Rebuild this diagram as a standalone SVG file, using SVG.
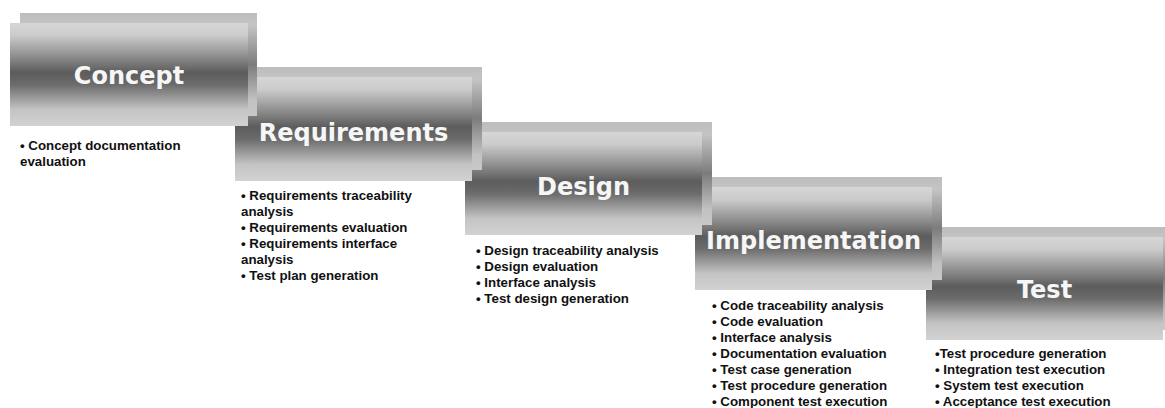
<svg xmlns="http://www.w3.org/2000/svg" width="1165" height="408" viewBox="0 0 1165 408">
<defs>
<linearGradient id="gFront" x1="0" y1="0" x2="0" y2="1">
<stop offset="0" stop-color="#d6d6d6"/>
<stop offset="0.12" stop-color="#cbcbcb"/>
<stop offset="0.33" stop-color="#8c8c8c"/>
<stop offset="0.48" stop-color="#5c5c5c"/>
<stop offset="0.6" stop-color="#6c6c6c"/>
<stop offset="0.84" stop-color="#c4c4c4"/>
<stop offset="1" stop-color="#d2d2d2"/>
</linearGradient>
<linearGradient id="gBack" x1="0" y1="0" x2="0" y2="1">
<stop offset="0" stop-color="#bdbdbd"/>
<stop offset="0.12" stop-color="#c4c4c4"/>
<stop offset="0.5" stop-color="#7c7c7c"/>
<stop offset="0.85" stop-color="#c2c2c2"/>
<stop offset="1" stop-color="#c8c8c8"/>
</linearGradient>
</defs>
<style>
.back{fill:url(#gBack);}
.front{fill:url(#gFront);}
.title{font-family:"DejaVu Sans",Verdana,sans-serif;font-weight:bold;font-size:24px;fill:#f6f6f6;text-anchor:middle;}
.item{font-family:"Liberation Sans",Arial,sans-serif;font-weight:bold;font-size:13.3px;fill:#111111;}
</style>
<rect width="1165" height="408" fill="#ffffff"/>

<g id="node-test">
<rect class="back" x="936" y="227" width="237" height="103"/>
<rect class="front" x="926" y="237" width="237" height="103"/>
<text class="title" x="1044.5" y="298">Test</text>
<text class="item" x="935" y="358">•Test procedure generation</text>
<text class="item" x="935" y="374">• Integration test execution</text>
<text class="item" x="935" y="390">• System test execution</text>
<text class="item" x="935" y="406">• Acceptance test execution</text>
</g>

<g id="node-implementation">
<rect class="back" x="705" y="177" width="237" height="103"/>
<rect class="front" x="695" y="187" width="237" height="103"/>
<text class="title" x="813.5" y="249">Implementation</text>
<text class="item" x="712" y="310">• Code traceability analysis</text>
<text class="item" x="712" y="326">• Code evaluation</text>
<text class="item" x="712" y="342">• Interface analysis</text>
<text class="item" x="712" y="358">• Documentation evaluation</text>
<text class="item" x="712" y="374">• Test case generation</text>
<text class="item" x="712" y="390">• Test procedure generation</text>
<text class="item" x="712" y="406">• Component test execution</text>
</g>

<g id="node-design">
<rect class="back" x="475" y="122" width="237" height="103"/>
<rect class="front" x="465" y="132" width="237" height="103"/>
<text class="title" x="583.5" y="195">Design</text>
<text class="item" x="476" y="255">• Design traceability analysis</text>
<text class="item" x="476" y="271">• Design evaluation</text>
<text class="item" x="476" y="287">• Interface analysis</text>
<text class="item" x="476" y="303">• Test design generation</text>
</g>

<g id="node-requirements">
<rect class="back" x="245" y="67" width="237" height="103"/>
<rect class="front" x="235" y="77" width="237" height="104"/>
<text class="title" x="353.5" y="141">Requirements</text>
<text class="item" x="241" y="200">• Requirements traceability</text>
<text class="item" x="241" y="216">analysis</text>
<text class="item" x="241" y="232">• Requirements evaluation</text>
<text class="item" x="241" y="248">• Requirements interface</text>
<text class="item" x="241" y="264">analysis</text>
<text class="item" x="241" y="280">• Test plan generation</text>
</g>

<g id="node-concept">
<rect class="back" x="20" y="13" width="237" height="103"/>
<rect class="front" x="10" y="23" width="238" height="103"/>
<text class="title" x="129" y="84">Concept</text>
<text class="item" x="20" y="150">• Concept documentation</text>
<text class="item" x="20" y="166">evaluation</text>
</g>
</svg>
